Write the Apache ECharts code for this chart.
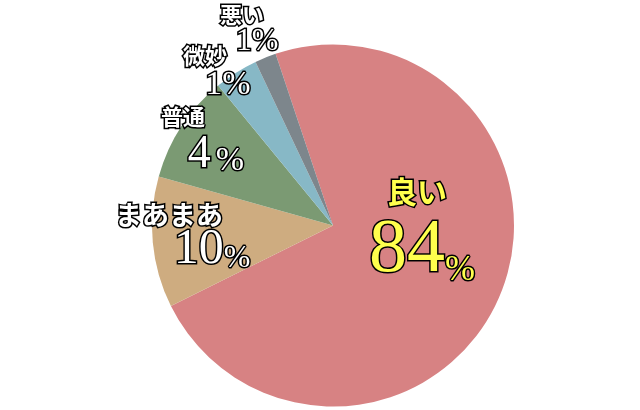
<!DOCTYPE html>
<html><head><meta charset="utf-8">
<script src="https://cdn.jsdelivr.net/npm/echarts@6/dist/echarts.min.js"></script>
<style>html,body{margin:0;padding:0;background:#fff;}#c{width:640px;height:410px;}</style>
</head><body><div id="c"></div>
<script>
const categories = ['良い', 'まあまあ', '普通', '微妙', '悪い'];
const sliceValues = [72.8, 11.7, 9.7, 3.9, 1.9];
const labelNumbers = ['84', '10', '4', '1', '1'];
const sliceColors = ['#d78283', '#ceac80', '#7b9a73', '#87b8c6', '#7d868c'];

const namePos = [[417, 192], [169, 215], [183, 117], [205, 56], [242, 15]];
const numPos = [[422, 251], [212, 250], [216, 155], [228, 85], [257, 42]];
const nameSize = [30, 27, 22, 22, 22];
const digitSize = [76, 50, 46, 34, 32];
const pctSize = [36, 32, 34, 34, 32];

const chart = echarts.init(document.getElementById('c'));
const cjk = '"Noto Sans CJK JP", sans-serif';
const serif = '"Liberation Serif", "DejaVu Serif", serif';
function textColor(i) { return i === 0 ? '#ffff4d' : '#ffffff'; }

const pieBase = {
  type: 'pie', center: [333, 225.5], radius: 181,
  startAngle: 108.5, clockwise: true, avoidLabelOverlap: false,
  itemStyle: { borderWidth: 0 },
  labelLine: { show: false }
};

chart.setOption({
  animation: false,
  series: [
    Object.assign({}, pieBase, {
      label: { show: true, position: 'inside' },
      labelLayout: p => ({ x: namePos[p.dataIndex][0], y: namePos[p.dataIndex][1], align: 'center', verticalAlign: 'middle' }),
      data: categories.map((n, i) => ({
        name: n, value: sliceValues[i], itemStyle: { color: sliceColors[i] },
        label: {
          formatter: n, fontFamily: cjk, fontWeight: 'bold', fontSize: nameSize[i],
          color: textColor(i), textBorderColor: '#000', textBorderWidth: 3
        }
      }))
    }),
    Object.assign({}, pieBase, {
      silent: true,
      label: { show: true, position: 'inside' },
      labelLayout: p => ({ x: numPos[p.dataIndex][0], y: numPos[p.dataIndex][1], align: 'center', verticalAlign: 'middle' }),
      data: categories.map((n, i) => ({
        name: n, value: sliceValues[i], itemStyle: { color: 'rgba(0,0,0,0)' },
        label: {
          formatter: '{d|' + labelNumbers[i] + '}' + (i === 2 ? '{s| }' : '') + '{p|%}',
          rich: {
            d: { fontFamily: serif, fontSize: digitSize[i], color: textColor(i), textBorderColor: '#000', textBorderWidth: 3, verticalAlign: 'bottom' },
            s: { fontFamily: serif, fontSize: 20 },
            p: { fontFamily: serif, fontSize: pctSize[i], color: textColor(i), textBorderColor: '#000', textBorderWidth: 3, verticalAlign: 'bottom' }
          }
        }
      }))
    })
  ]
});
</script></body></html>
